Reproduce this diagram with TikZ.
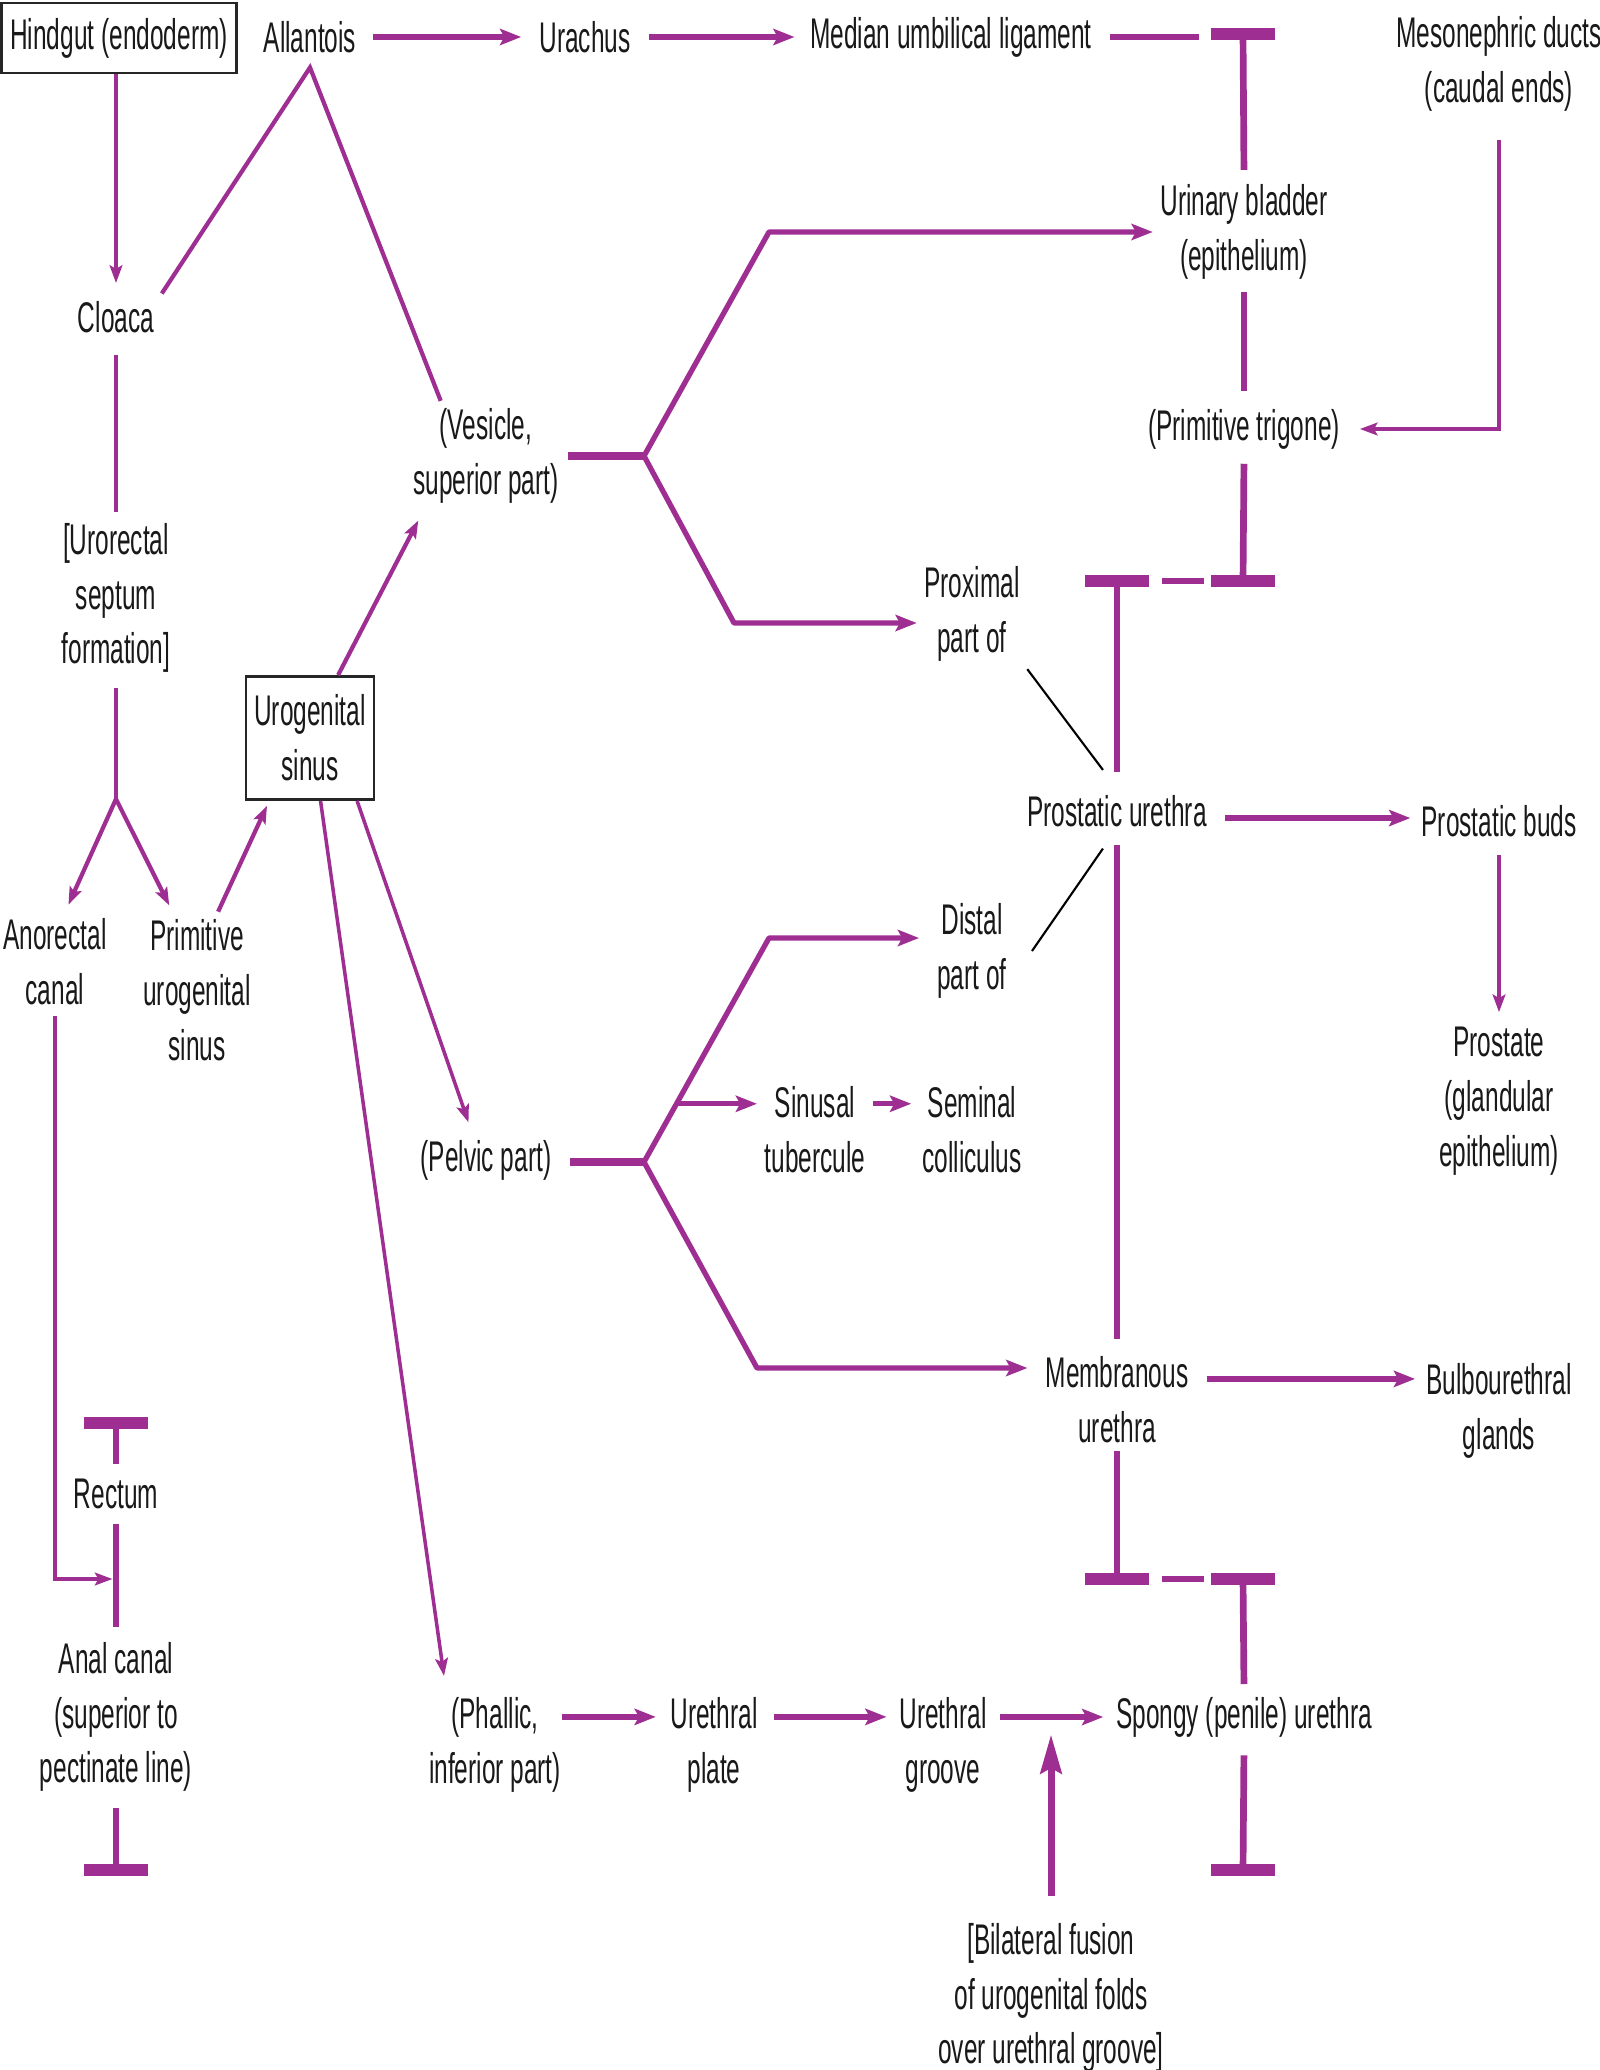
\documentclass[tikz,border=0pt]{standalone}
\usepackage{fontspec}
\setmainfont[FakeStretch=0.57]{Liberation Sans}
\usetikzlibrary{arrows.meta,calc}
\definecolor{mauve}{RGB}{158,46,146}
\newcommand\diagfont{\fontsize{12.2}{15.6}\selectfont}

\begin{document}
\begin{tikzpicture}[x=0.01cm,y=-0.01cm,
  term/.style={align=center,inner sep=2pt,font=\diagfont,text=black!90},
  box/.style={term,draw=black!85,line width=0.8pt},
  plain/.style={draw=mauve,line width=1pt},
  thinarr/.style={plain,-{Stealth[length=5pt,width=3.6pt,inset=1pt]}},
  arr/.style={draw=mauve,line width=1.5pt,-{Stealth[length=6pt,width=4.6pt,inset=1.2pt]}},
  bigarr/.style={draw=mauve,line width=2pt,-{Stealth[length=11pt,width=6pt,inset=1.5pt]}},
  fork/.style={draw=mauve,line width=2.2pt},
  stem/.style={draw=mauve,line width=1.9pt},
  tbar/.style={draw=mauve,line width=3.2pt},
  pointer/.style={draw=black,line width=0.6pt}]
\useasboundingbox (0,0) rectangle (1599,2070);
\fill[white] (0,0) rectangle (1599,2070);

% left column
\node[box,inner xsep=2.5pt,minimum height=19.9pt] (hindgut) at (119,38) {Hindgut (endoderm)};
\node[term] (cloaca) at (116,317) {Cloaca};
\node[term] (septum) at (116,598) {[Urorectal\\septum\\formation]};
\node[term] (anorectal) at (55,962) {Anorectal\\canal};
\node[term] (pug) at (197,990) {Primitive\\urogenital\\sinus};
\node[term] (rectum) at (116,1494) {Rectum};
\node[term] (anal) at (116,1717) {Anal canal\\(superior to\\pectinate line)};

% sinus and its parts
\node[term] (allantois) at (310,37) {Allantois};
\node[term] (urachus) at (585,37) {Urachus};
\node[term] (median) at (951,37) {Median umbilical ligament};
\node[box,minimum width=36.4pt,minimum height=35pt] (ugs) at (310,738) {Urogenital\\sinus};
\node[term] (vesicle) at (486,456) {(Vesicle,\\superior part)};
\node[term] (pelvic) at (486,1160) {(Pelvic part)};
\node[term] (phallic) at (495,1745) {(Phallic,\\inferior part)};

% derivatives
\node[term] (meso) at (1499,64) {Mesonephric ducts\\(caudal ends)};
\node[term] (bladder) at (1244,232) {Urinary bladder\\(epithelium)};
\node[term] (trigone) at (1244,429) {(Primitive trigone)};
\node[term] (proximal) at (972,614) {Proximal\\part of};
\node[term] (prourethra) at (1117,811) {Prostatic urethra};
\node[term] (distal) at (972,951) {Distal\\part of};
\node[term] (sinusal) at (815,1130) {Sinusal\\tubercule};
\node[term] (seminal) at (972,1130) {Seminal\\colliculus};
\node[term] (buds) at (1499,821) {Prostatic buds};
\node[term] (prostate) at (1499,1101) {Prostate\\(glandular\\epithelium)};
\node[term] (memb) at (1117,1400) {Membranous\\urethra};
\node[term] (bulbo) at (1499,1411) {Bulbourethral\\glands};
\node[term] (plate) at (714,1745) {Urethral\\plate};
\node[term] (groove) at (943,1745) {Urethral\\groove};
\node[term] (spongy) at (1244,1717) {Spongy (penile) urethra};
\node[term] (fusion) at (1051,1998) {[Bilateral fusion\\of urogenital folds\\over urethral groove]};

% bends, forks and bar centres
\coordinate (septfork) at (116,799);
\coordinate (vfork) at (644,456);
\coordinate (vup) at (769,232);
\coordinate (vdown) at (734,623);
\coordinate (pfork) at (644,1162);
\coordinate (pup) at (769,938);
\coordinate (pdown) at (757,1368);
\coordinate (sfork) at ($(pfork)!0.26!(pup)$);
\coordinate (jn) at (116,1579);
\coordinate (tb1) at (1243,34);
\coordinate (tb2) at (1243,581);
\coordinate (tb3) at (1117,581);
\coordinate (tb4) at (1117,1579);
\coordinate (tb5) at (1243,1579);
\coordinate (tb6) at (1243,1870);
\coordinate (tr1) at (116,1423);
\coordinate (tr2) at (116,1870);

% hindgut side
\draw[thinarr,shorten >=3pt] (cloaca.north |- hindgut.south) -- (cloaca.north);
\draw[plain,line width=1.2pt] (cloaca.north east) -- ([yshift=-2pt]allantois.south) -- ([xshift=10pt]vesicle.north west);
\draw[plain,shorten <=4pt,shorten >=1pt] (cloaca.south) -- (septum.north);
\draw[plain,shorten <=2pt] (septum.south) -- (septfork);
\draw[thinarr,line width=1.2pt,shorten >=2pt] (septfork) -- ([xshift=3pt]anorectal.north);
\draw[thinarr,line width=1.2pt,shorten >=2pt] (septfork) -- ([xshift=-7pt]pug.north);
\draw[thinarr,line width=1.2pt,shorten >=1.5pt] ([xshift=6pt]pug.north) -- ([xshift=7pt]ugs.south west);
\draw[thinarr,shorten <=1pt,shorten >=1pt] (anorectal.south) |- (jn);

% top row
\draw[arr,shorten <=2.5pt,shorten >=3pt] (allantois.east) -- (urachus.west);
\draw[arr,shorten <=3pt,shorten >=2.3pt] (urachus.east) -- (median.west);
\draw[stem,line width=1.6pt,shorten <=3pt,shorten >=12.5pt] (median.east) -- (median.east -| tb1);

% urogenital sinus parts
\draw[thinarr,line width=1.2pt,shorten >=3pt] ([xshift=8pt]ugs.north) -- ([xshift=5pt]vesicle.south west);
\draw[thinarr,shorten >=3pt] ([xshift=13.4pt]ugs.south) -- ([xshift=-4pt]pelvic.north);
\draw[thinarr,shorten >=4pt] ([xshift=3pt]ugs.south) -- ([xshift=7pt]phallic.north west);

\draw[fork,shorten <=0.5pt] (vesicle.east) -- (vfork);
\draw[arr,line join=round] (vfork) -- (vup) -- (bladder.west);
\draw[arr,line join=round] (vfork) -- (vdown) -- (vdown -| proximal.west);
\draw[fork,shorten <=3pt] (pelvic.east |- pfork) -- (pfork);
\draw[arr,line join=round,shorten >=3pt] (pfork) -- (pup) -- (pup -| distal.west);
\draw[arr,line join=round,shorten >=3pt] (pfork) -- (pdown) -- (pdown -| memb.west);
\draw[arr] (sfork) -- (sfork -| sinusal.west);
\draw[arr,shorten >=1pt] (sinusal.east |- sfork) -- (seminal.west |- sfork);

\draw[pointer] (proximal.south east) -- ([xshift=-4pt,yshift=5pt]prourethra.north);
\draw[pointer] ([xshift=5pt]distal.east) -- ([xshift=-4pt,yshift=-4pt]prourethra.south);

% urethra bars
\foreach \c in {tb1,tb2,tb3,tb4,tb5,tb6,tr1,tr2}
  \draw[tbar] ([xshift=-9.1pt]\c) -- ([xshift=9.1pt]\c);
\draw[stem,shorten >=2pt] (tb1) -- (bladder.north);
\draw[stem,shorten <=1.5pt,shorten >=3pt] (bladder.south) -- (trigone.north);
\draw[stem,shorten <=2pt] (trigone.south) -- (tb2);
\draw[stem,line width=1.6pt,shorten <=12.8pt,shorten >=11pt] (tb3) -- (tb2);
\draw[stem,shorten >=4.5pt] (tb3) -- (prourethra.north);
\draw[stem,shorten <=3pt,shorten >=3pt] (prourethra.south) -- (memb.north);
\draw[stem] (memb.south) -- (tb4);
\draw[stem,line width=1.6pt,shorten <=12.8pt,shorten >=11pt] (tb4) -- (tb5);
\draw[stem,shorten >=1.5pt] (tb5) -- (spongy.north);
\draw[stem,shorten <=3pt] (spongy.south) -- (tb6);
\draw[stem,shorten >=2pt] (tr1) -- (rectum.north);
\draw[stem,shorten <=2pt,shorten >=2pt] (rectum.south) -- (anal.north);
\draw[stem,shorten <=2.5pt] (anal.south) -- (tr2);

% right side
\draw[thinarr,shorten <=6pt,shorten >=3.5pt] (meso.south) |- (trigone.east);
\draw[arr,shorten <=3pt,shorten >=1pt] ([yshift=-2pt]prourethra.east) -- ([yshift=-2pt]prourethra.east -| buds.west);
\draw[thinarr,shorten <=3pt,shorten >=2pt] (buds.south) -- (prostate.north);
\draw[arr,shorten <=3pt,shorten >=1pt] ([yshift=6pt]memb.east) -- ([yshift=6pt]memb.east -| bulbo.west);

% phallic part
\draw[arr,shorten <=-2pt,shorten >=2pt] ([yshift=8pt]phallic.east) -- ([yshift=8pt]plate.west);
\draw[arr,shorten <=2.5pt,shorten >=1.5pt] ([yshift=8pt]plate.east) -- ([yshift=8pt]groove.west);
\draw[arr,shorten <=1.5pt,shorten >=1.5pt] (groove.east |- spongy.west) -- (spongy.west);
\draw[bigarr,shorten <=5.5pt,shorten >=5pt] (fusion.north) -- (fusion.north |- spongy.west);
\end{tikzpicture}
\end{document}
